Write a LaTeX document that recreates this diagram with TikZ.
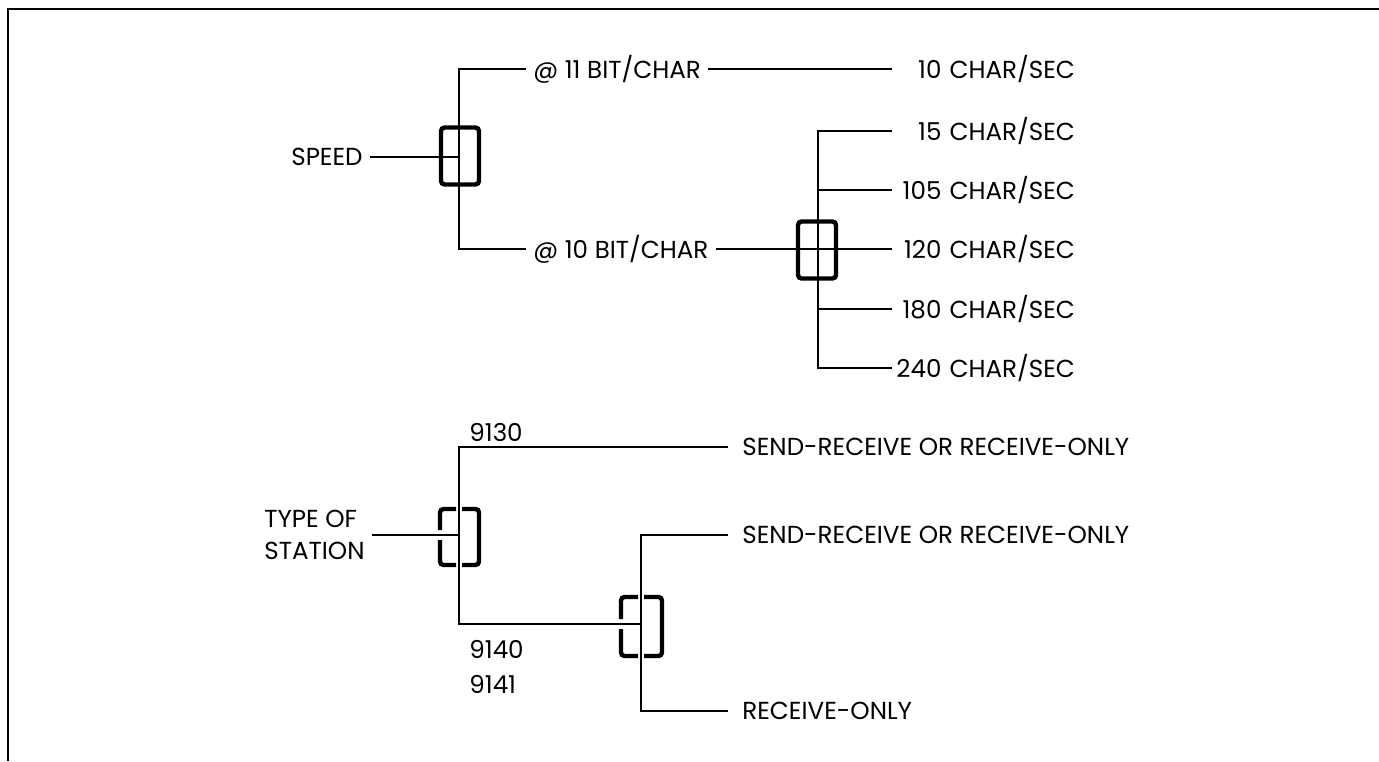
\documentclass[tikz,border=0pt]{standalone}
\usepackage{fontspec}
\setmainfont{Poppins}
\usetikzlibrary{positioning}
% left, right, top, bottom, split x, tap y
\newcommand{\brackpair}[6]{%
  \draw[brk] (#5-3,#3) -- (#1,#3) -- (#1,#6-5);
  \draw[brk] (#1,#6+5) -- (#1,#4) -- (#5-3,#4);
  \draw[brk] (#5+3,#3) -- (#2,#3) -- (#2,#4) -- (#5+3,#4);}

\begin{document}
\begin{tikzpicture}[x=0.02cm, y=-0.02cm,
  font=\fontsize{14}{18}\selectfont,
  wire/.style={line width=0.8pt},
  frame/.style={line width=1.2pt},
  selbox/.style={draw, line width=2.5pt, rounded corners=2pt, minimum width=0.76cm,
                 minimum height=1.14cm, inner sep=0pt},
  brk/.style={line width=2.5pt, rounded corners=2pt},
  lbl/.style={inner sep=4pt},
  rate/.style={anchor=west, inner xsep=1.5pt, text width=3.6cm, align=right},
  mode/.style={anchor=west, inner xsep=8pt}
]
  \useasboundingbox (0,0) rectangle (1379,761);
  \draw[frame] (8,761) -- (8,9) -- (1379,9);

  % speed
  \node[selbox] (sbox) at (460,156) {};
  \coordinate (sj) at (459,157);
  \node[lbl, anchor=east] (speed) at (370,157) {SPEED};
  \node[lbl, anchor=west] (b11) at (526,69) {@ 11 BIT/CHAR};
  \node[lbl, anchor=west] (b10) at (526,249) {@ 10 BIT/CHAR};
  \node[rate] (c10) at (892,69) {10 CHAR/SEC};
  \draw[wire] (speed) -- (sj);
  \draw[wire] (b11) -| (sj) |- (b10);
  \draw[wire] (b11) -- (c10);

  % rates at 10 bit/char
  \node[selbox] (rbox) at (817,250) {};
  \coordinate (rj) at (818,249);
  \foreach \r/\y in {15/131,105/190,120/249,180/309,240/368}
    \node[rate] (c\r) at (892,\y) {\r{} CHAR/SEC};
  \draw[wire] (b10) -- (c120);
  \draw[wire] (c15) -| (rj) |- (c240);
  \foreach \r in {105,180}
    \draw[wire] (c\r) -- (c\r -| rj);

  % type of station
  \node[lbl, align=left, anchor=east] (type) at (372,535) {TYPE OF\\STATION};
  \coordinate (tj) at (459,535);
  \coordinate (kj) at (641,624);
  \node[lbl, anchor=west] (n9130) at (462,432) {9130};
  \node[lbl, align=left, anchor=west] (n9140) at (462,667) {9140\\[2pt]9141};
  \node[mode] (sr1) at (728,447) {SEND-RECEIVE OR RECEIVE-ONLY};
  \node[mode] (sr2) at (728,535) {SEND-RECEIVE OR RECEIVE-ONLY};
  \node[mode] (ro) at (728,711) {RECEIVE-ONLY};
  \draw[wire] (type) -- (tj);
  \draw[wire] (sr1) -| (tj) |- (kj);
  \draw[wire] (sr2) -| (kj) |- (ro);
  \brackpair{440}{479}{509}{565}{459}{535}
  \brackpair{621}{662}{597}{656}{641}{624}
\end{tikzpicture}
\end{document}
